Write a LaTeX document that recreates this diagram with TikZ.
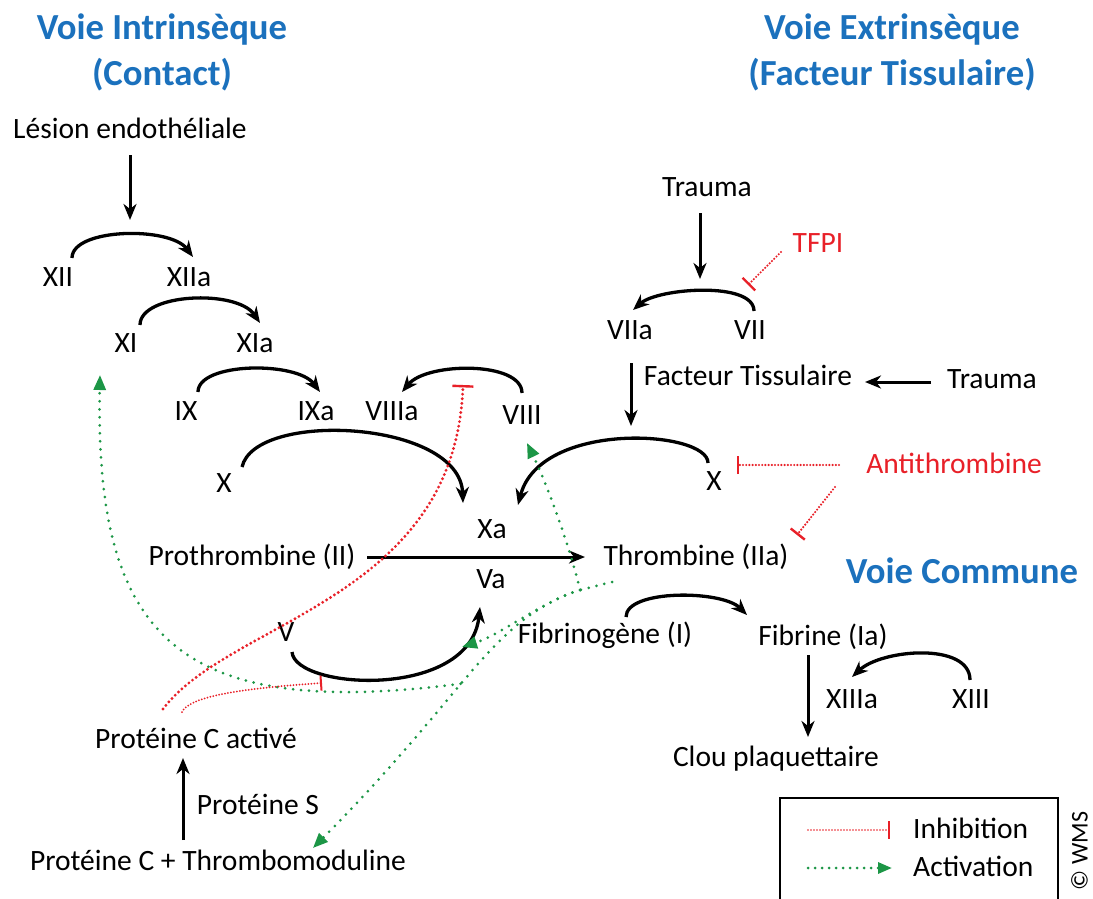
\documentclass[tikz,border=0pt]{standalone}
\usepackage{fontspec}
\setmainfont{Carlito}
\usetikzlibrary{arrows.meta,calc}
\definecolor{tblue}{RGB}{27,113,189}
\definecolor{ired}{RGB}{232,32,40}
\definecolor{agreen}{RGB}{28,150,70}
\begin{document}
\begin{tikzpicture}[x=1pt,y=-1pt,
  lbl/.style={inner sep=0pt, text height=18.5pt, text depth=0pt, font=\fontsize{29.5}{34}\selectfont},
  rlbl/.style={lbl, text=ired},
  ttl/.style={inner sep=0pt, text height=23.2pt, text depth=0pt, text=tblue, font=\fontsize{36.7}{44}\selectfont\bfseries},
  conv/.style={line width=3.3pt, -{Stealth[length=16pt,width=13pt,inset=5pt]}},
  arr/.style={line width=3pt, -{Stealth[length=16pt,width=13pt,inset=5pt]}},
  act/.style={agreen, line width=3pt, line cap=round, dash pattern=on 0pt off 8pt, -{Triangle[length=15pt,width=12pt]}},
  actline/.style={agreen, line width=3pt, line cap=round, dash pattern=on 0pt off 8pt},
  inhthick/.style={ired, line width=3.2pt, line cap=round, dash pattern=on 0pt off 4.6pt, -{Bar[width=21pt,line width=2.4pt]}},
  inhthin/.style={ired, line width=2pt, line cap=round, dash pattern=on 0pt off 3pt, -{Bar[width=15pt,line width=2pt]}},
  inhmid/.style={ired, line width=2.4pt, line cap=round, dash pattern=on 0pt off 3.2pt, -{Bar[width=18pt,line width=2.4pt]}}
]
\useasboundingbox (0,0) rectangle (1093,899);
\clip (0,0) rectangle (1093,899);

% titles
\node[ttl] (t1a) at (162,28) {Voie Intrinsèque};
\node[ttl] (t1b) at (162,74) {(Contact)};
\node[ttl] (t2a) at (892,28) {Voie Extrinsèque};
\node[ttl] (t2b) at (892,74) {(Facteur Tissulaire)};
\node[ttl] (t3) at (962,572) {Voie Commune};

% labels
\node[lbl] (lesion) at (130,129) {Lésion endothéliale};
\node[lbl] (XII) at (58,277) {XII};
\node[lbl] (XIIa) at (189,277) {XIIa};
\node[lbl] (XI) at (126,343) {XI};
\node[lbl] (XIa) at (255,343) {XIa};
\node[lbl] (IX) at (186,411) {IX};
\node[lbl] (IXa) at (316,411) {IXa};
\node[lbl] (VIIIa) at (392,411) {VIIIa};
\node[lbl] (VIII) at (522,415) {VIII};
\node[lbl] (Xl) at (224,483) {X};
\node[lbl] (Xa) at (492,529) {Xa};
\node[lbl] (Va) at (491,579) {Va};
\node[lbl] (proth) at (252,556) {Prothrombine (II)};
\node[lbl] (thromb) at (696,556) {Thrombine (IIa)};
\node[lbl] (V) at (286,632) {V};
\node[lbl] (fibrinogene) at (605,634) {Fibrinogène (I)};
\node[lbl] (fibrine) at (823,636) {Fibrine (Ia)};
\node[lbl] (XIIIa) at (852,699) {XIIIa};
\node[lbl] (XIII) at (971,699) {XIII};
\node[lbl] (clou) at (776,757) {Clou plaquettaire};
\node[lbl] (trauma1) at (707,187) {Trauma};
\node[rlbl] (TFPI) at (818,243) {TFPI};
\node[lbl] (VIIa) at (630,330) {VIIa};
\node[lbl] (VII) at (750,330) {VII};
\node[lbl] (FT) at (748,376) {Facteur Tissulaire};
\node[lbl] (trauma2) at (992,379) {Trauma};
\node[lbl] (Xr) at (714,481) {X};
\node[rlbl] (anti) at (954,464) {Antithrombine};
\node[lbl] (protCa) at (196,739) {Protéine C activé};
\node[lbl] (protS) at (258,805) {Protéine S};
\node[lbl] (protCTM) at (218,861) {Protéine C + Thrombomoduline};

% straight arrows
\draw[arr] ($(lesion)+(0,26)$) -- ($(lesion)+(0,91)$);
\draw[arr] ($(trauma1)+(-7,26)$) -- ($(trauma1)+(-7,92)$);
\draw[arr] ($(VIIa)+(1,33)$) -- ($(VIIa)+(1,96)$);
\draw[arr] ($(trauma2)+(-61,3)$) -- ($(FT)+(117,6)$);
\draw[arr] ($(proth)+(115,1)$) -- ($(thromb)+(-111,1)$);
\draw[arr] ($(fibrine)+(-15,19)$) -- ($(fibrine)+(-15,101)$);
\draw[arr] ($(protCTM)+(-35,-21)$) -- ($(protCa)+(-13,19)$);

% conversion arcs
\draw[conv] ($(XII)+(14,-19)$) .. controls +(0,-30) and +(-23,-31) .. ($(XIIa)+(4,-20)$);
\draw[conv] ($(XI)+(14,-18)$) .. controls +(0,-32) and +(-23,-34) .. ($(XIa)+(5,-20)$);
\draw[conv] ($(IX)+(12,-19)$) .. controls +(0,-30) and +(-23,-31) .. ($(IXa)+(4,-19)$);
\draw[conv] ($(VIII)+(0,-22)$) .. controls +(0,-32) and +(25,-30) .. ($(VIIIa)+(10,-19)$);
\draw[conv] ($(Xl)+(18,-16)$) .. controls +(13,-57) and +(-3,-83) .. ($(Xa)+(-29,-26)$);
\draw[conv] ($(Xr)+(-6,-18)$) .. controls +(0,-33) and +(22,-85) .. ($(Xa)+(26,-24)$);
\draw[conv] ($(V)+(6,20)$) .. controls +(3,38) and +(-10,93) .. ($(Va)+(-11,28)$);
\draw[conv] ($(VII)+(4,-19)$) .. controls +(0,-30) and +(25,-22) .. ($(VIIa)+(3,-20)$);
\draw[conv] ($(fibrinogene)+(21,-17)$) .. controls +(0,-28) and +(-25,-25) .. ($(fibrine)+(-76,-21)$);
\draw[conv] ($(XIII)+(-1,-19)$) .. controls +(0,-38) and +(30,-28) .. ($(XIIIa)+(0,-22)$);

% activations (green)
\coordinate (J) at ($(thromb)+(-116,34)$);
\draw[actline] ($(thromb)+(-84,26)$) -- (J);
\draw[act] (J) .. controls +(-12,-50) and +(18,37) .. ($(VIII)+(5,28)$);
\draw[act] (J) .. controls +(-35,10) and +(38,-12) .. ($(V)+(176,15)$);
\draw[act] (J) .. controls +(-90,30) and +(157,-158) .. ($(protCTM)+(95,-13)$) coordinate[pos=0.55] (K);
\draw[act] (K) .. controls (180,720) and +(-5,265) .. ($(XI)+(-26,32)$);

% inhibitions (red)
\draw[inhthick] ($(protCa)+(-33,-30)$) .. controls +(67,-89) and +(-8,215) .. ($(VIII)+(-59,-30)$);
\draw[inhthin] ($(protCa)+(-14,-27)$) .. controls +(8,-17) and +(-72,5) .. ($(V)+(36,51)$);
\draw[inhmid] ($(TFPI)+(-37,9)$) -- ($(VII)+(-2,-45)$);
\draw[inhmid] ($(anti)+(-115,1)$) -- ($(Xr)+(23,-16)$);
\draw[inhmid] ($(anti)+(-119,23)$) -- ($(thromb)+(101,-21)$);

% legend
\draw[line width=1.2pt] (780,798) rectangle (1058,915);
\coordinate (li1) at (808,830);
\coordinate (li2) at (890,830);
\coordinate (la1) at (808,868);
\coordinate (la2) at (892,868);
\draw[inhthin, line width=1.6pt, -{Bar[width=18pt,line width=2pt]}] (li1) -- (li2);
\draw[act, dash pattern=on 0pt off 7pt, -{Triangle[length=14pt,width=11pt]}] (la1) -- (la2);
\node[lbl, anchor=west] (linh) at (913,829) {Inhibition};
\node[lbl, anchor=west] (lact) at (913,867) {Activation};

% copyright
\node[rotate=90, inner sep=0pt, text height=15pt, text depth=0pt, font=\fontsize{24}{28}\selectfont] (wms) at (1080,851) {© WMS};
\end{tikzpicture}
\end{document}
